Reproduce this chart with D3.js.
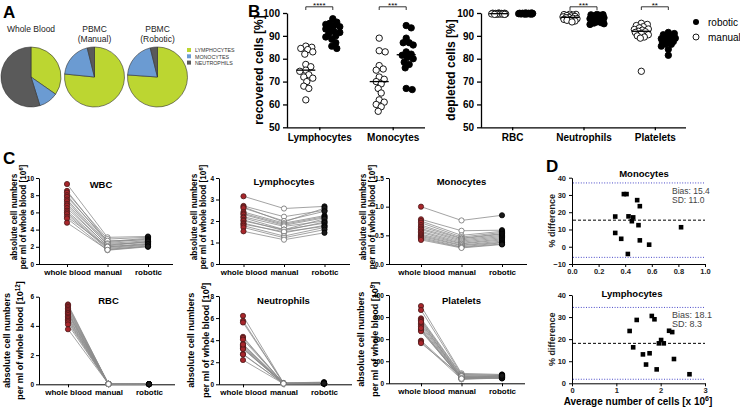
<!DOCTYPE html>
<html><head><meta charset="utf-8">
<script src="https://cdn.jsdelivr.net/npm/d3@7"></script>
<style>body{margin:0;background:#fff}svg{display:block}</style>
</head><body>
<script>
// ---------------- DATA ----------------
// Panel A
const pieCats = ["LYMPHOCYTES","MONOCYTES","NEUTROPHILS"];
const pieTitles = [["Whole Blood"],["PBMC","(Manual)"],["PBMC","(Robotic)"]];
const pieWhole = [34.7, 10.5, 54.8];
const pieManual = [76.6, 19.5, 3.9];
const pieRobotic = [76.1, 20.0, 3.9];
// Panel B
const bLeftCats = ["Lymphocytes","Monocytes"];
const lymphManual = [85.5,85,84.5,84,83,82,77.5,76.5,75,74.5,73,72,71.5,70,68,67,62];
const lymphRobotic = [97.5,96,95.5,95,94.5,94,93.5,93,92,91.5,91,90,89.5,88.5,87,85.5,84.5];
const monoManual = [89,83.5,83,77,75.5,75,72,71,70,69,67,65,62,61,60,59,57];
const monoRobotic = [94.5,93.5,89,87,87,86,83,82,81.5,80.5,80,78.5,77.5,76,67,66.5];
const bLeftStars = ["****","***"];
const bRightCats = ["RBC","Neutrophils","Platelets"];
const rbcManual = [100,99.9,99.9,99.8,99.8,99.8,99.7,99.7,99.7,99.6,99.6,99.6,99.5,99.5,99.5,99.4,99.4];
const rbcRobotic = [100,100,99.9,99.9,99.9,99.8,99.8,99.8,99.8,99.7,99.7,99.7,99.6,99.6,99.6,99.5,99.5];
const neutManual = [99.5,99.4,99.3,99.1,98.9,98.7,98.5,98.3,98.1,97.9,97.7,97.5,97.2,97,96.8,96.5,96.1];
const neutRobotic = [99.4,99.3,99.2,99,98.7,98.3,97.9,97.5,97.2,96.9,96.6,96.3,96.1,95.8,95.6,95.3,95];
const pltManual = [95.5,95,94.5,94,93.5,93,92.8,92.5,92,91.8,91.5,91,90.5,90,89.5,89,74.5];
const pltRobotic = [91.5,91,90.5,90,89.5,89,88.8,88.5,88,87.5,87.4,87,86.5,86.3,85.5,84.1,81.5];
const bRightStars = ["","***","**"];
// Panel C (one entry per donor)
const cCats = ["whole blood","manual","robotic"];
const wbcWhole   = [9.3,8.5,8.3,8.0,7.8,7.5,7.3,7.0,6.8,6.5,6.2,6.0,5.8,5.5,5.3,4.8];
const wbcManual  = [3.1,2.6,2.9,2.5,2.7,2.4,2.2,2.3,2.0,2.1,1.9,1.8,1.7,2.0,1.6,1.65];
const wbcRobotic = [3.2,3.0,3.1,2.9,2.8,2.7,2.6,2.5,2.4,2.6,2.3,2.2,2.1,2.3,2.0,2.05];
const lymWhole   = [3.15,2.7,2.65,2.6,2.42,2.35,2.3,2.2,2.15,2.05,2.0,1.9,1.85,1.78,1.7,1.52];
const lymManual  = [2.58,2.2,1.95,2.0,1.9,1.85,1.8,1.75,1.6,1.55,1.6,1.45,1.5,1.3,1.22,1.13];
const lymRobotic = [2.68,2.5,2.6,2.45,2.25,2.2,2.15,2.0,2.1,1.95,1.9,1.8,1.75,1.7,1.6,1.45];
const monWhole   = [1.0,0.78,0.75,0.72,0.68,0.65,0.62,0.6,0.57,0.55,0.52,0.5,0.48,0.46,0.44,0.42];
const monManual  = [0.76,0.58,0.5,0.47,0.45,0.44,0.42,0.4,0.38,0.36,0.35,0.33,0.32,0.3,0.29,0.28];
const monRobotic = [0.85,0.59,0.57,0.55,0.53,0.52,0.5,0.48,0.46,0.44,0.42,0.4,0.38,0.37,0.35,0.34];
const rbcWhole   = [5.47,5.4,5.3,5.2,5.1,5.0,4.9,4.85,4.75,4.63,4.55,4.45,4.35,4.25,4.1,3.77];
const rbcManualAbs  = [0.03,0.02,0.02,0.03,0.02,0.02,0.03,0.02,0.02,0.02,0.03,0.02,0.02,0.02,0.03,0.02];
const rbcRoboticAbs = [0.01,0.01,0.01,0.01,0.01,0.01,0.01,0.01,0.01,0.01,0.01,0.01,0.01,0.01,0.01,0.01];
const neuWhole   = [6.2,5.75,5.6,4.3,4.2,4.05,3.65,3.5,3.4,3.3,3.25,3.2,2.75,2.7,2.2,3.6];
const neuManual  = [0.12,0.1,0.1,0.08,0.09,0.1,0.07,0.08,0.06,0.07,0.08,0.06,0.05,0.06,0.05,0.07];
const neuRobotic = [0.2,0.15,0.12,0.1,0.12,0.1,0.09,0.1,0.08,0.09,0.07,0.08,0.06,0.07,0.06,0.08];
const pltWhole   = [350,332,294,288,284,272,265,258,245,241,236,193,188,182,278,250];
const pltManualAbs  = [45,40,38,35,30,28,25,23,20,18,22,27,19,32,24,21];
const pltRoboticAbs = [40,38,35,33,30,27,25,22,28,24,36,31,26,23,29,34];
// Panel D
const monoAvg  = [0.39,0.41,0.49,0.51,0.325,0.425,0.46,0.45,0.5,0.325,0.37,0.51,0.58,0.42,0.82];
const monoDiff = [30.5,30.5,27,23.5,17.5,17.6,17,14.8,12.5,8,4.6,3.7,1.2,-4.2,11.3];
const monoBias = 15.4, monoSD = 11.0;
const lymAvg  = [1.3,1.38,1.46,1.6,1.67,1.75,1.8,1.86,1.91,1.96,2.01,2.07,2.19,2.26,2.3,2.65];
const lymDiff = [23.7,16.3,28.7,13.1,8.5,13.6,30.5,29,6.3,18.1,19.6,18.1,23.8,23.2,11,4.1];
const lymBias = 18.1, lymSD = 8.3;

// ---------------- DRAW ----------------
const FONT = "'Liberation Sans', Arial, Helvetica, sans-serif";
const svg = d3.select("body").append("svg").attr("width",740).attr("height",407)
  .style("font-family", FONT);
svg.append("rect").attr("width",740).attr("height",407).attr("fill","#fff");

function panelLabel(t,x,y,size){ svg.append("text").attr("x",x).attr("y",y).attr("font-size",size)
  .attr("font-weight","bold").text(t); }
panelLabel("A",3,18,17); panelLabel("B",248,17,17); panelLabel("C",3,164,17); panelLabel("D",546,172,17);

// ---- A ----
const pieColors = d3.scaleOrdinal().domain(pieCats).range(["#bcd631","#6b9bd2","#5a5a5a"]);
const pieArc = d3.arc().innerRadius(0).outerRadius(30);
const pieGen = d3.pie().sort(null);
[[pieWhole,31],[pieManual,94.5],[pieRobotic,157.5]].forEach(([vals,cx],k)=>{
  const g = svg.append("g").attr("transform",`translate(${cx},77)`);
  g.selectAll("path").data(pieGen(vals)).join("path").attr("d",pieArc)
    .attr("fill",(d,i)=>pieColors(pieCats[i])).attr("stroke","#333").attr("stroke-width",0.6);
  pieTitles[k].forEach((t,j)=> svg.append("text").attr("x",cx).attr("y",32+j*9.5)
    .attr("text-anchor","middle").attr("font-size",8.5).attr("fill","#222").text(t));
});
pieCats.forEach((c,i)=>{
  svg.append("rect").attr("x",187).attr("y",48+i*6.3).attr("width",4).attr("height",4).attr("fill",pieColors(c));
  svg.append("text").attr("x",195).attr("y",52.2+i*6.3).attr("font-size",5.3).attr("fill","#333").text(c);
});

// ---- helper: beeswarm offsets ----
function swarm(ys, r, maxHalf){
  const order = ys.map((y,i)=>({i,y})).sort((a,b)=>a.y-b.y);
  const placed=[]; const out=new Array(ys.length);
  const minD = 2*r*0.82;
  order.forEach(p=>{
    let best=null, bestScore=-1, bestOff=0;
    for(let k=0;k<=2*maxHalf;k++){
      const off = (k%2? 1:-1)*Math.ceil(k/2);
      let md = Infinity;
      placed.forEach(q=>{ const d=Math.hypot(off-q.x,p.y-q.y); if(d<md) md=d; });
      if(md>=minD){ best=off; break; }
      if(md>bestScore){ bestScore=md; bestOff=off; }
    }
    if(best===null) best=bestOff;
    placed.push({x:best,y:p.y}); out[p.i]=best;
  });
  return out;
}

// ---- B ----
const yB = d3.scaleLinear().domain([50,100]).range([127.3,13]);
function bPanel(cats, groups, x0, x1, padding, yLabel, yLabelX, stars){
  const xs = d3.scalePoint().domain(cats).range([x0,x1]).padding(padding);
  const g = svg.append("g");
  const ya = g.append("g").attr("transform",`translate(${x0},0)`)
    .call(d3.axisLeft(yB).tickValues([50,60,70,80,90,100]).tickSize(4).tickSizeOuter(0));
  const xa = g.append("g").attr("transform",`translate(0,127.3)`)
    .call(d3.axisBottom(xs).tickSize(3).tickSizeOuter(0));
  xa.select(".domain").attr("d",`M${x0},0.5H${x1}`);
  [ya,xa].forEach(a=>{a.selectAll("path,line").attr("stroke","#000").attr("stroke-width",1.3);
    a.selectAll("text").attr("font-size",10).attr("font-weight","bold").attr("font-family",FONT).attr("fill","#000");});
  xa.selectAll("text").attr("y",14).attr("dy",0);
  g.append("text").attr("transform",`translate(${yLabelX},70) rotate(-90)`).attr("dy","0.35em")
    .attr("text-anchor","middle").attr("font-size",12).attr("font-weight","bold").text(yLabel);
  cats.forEach((c,ci)=>{
    const [man, rob] = groups[ci];
    const cm = xs(c)-13.5, cr = xs(c)+13.5, r=3.2;
    [[man,cm,false],[rob,cr,true]].forEach(([vals,cx,filled])=>{
      const ys = vals.map(v=>yB(v));
      const offs = swarm(ys, r, 7);
      g.append("g").selectAll("circle").data(vals).join("circle")
        .attr("cx",(d,i)=>cx+offs[i]).attr("cy",d=>yB(d)).attr("r",r)
        .attr("fill",filled?"#000":"#fff").attr("stroke","#000").attr("stroke-width",0.9);
      const med = d3.median(vals);
      g.append("line").attr("x1",cx-9.5).attr("x2",cx+9.5).attr("y1",yB(med)).attr("y2",yB(med))
        .attr("stroke","#000").attr("stroke-width",1.3);
    });
    if(stars[ci]){
      g.append("path").attr("d",`M${cm},10V6.8H${cr}V10`).attr("fill","none").attr("stroke","#000").attr("stroke-width",0.8);
      g.append("text").attr("x",(cm+cr)/2).attr("y",8).attr("text-anchor","middle").attr("font-size",8).text(stars[ci]);
    }
  });
}
bPanel(bLeftCats, [[lymphManual,lymphRobotic],[monoManual,monoRobotic]], 287, 425, 0.44, "recovered cells [%]", 259, bLeftStars);
bPanel(bRightCats, [[rbcManual,rbcRobotic],[neutManual,neutRobotic],[pltManual,pltRobotic]], 481, 686, 0.437, "depleted cells [%]", 451, bRightStars);
// legend B
svg.append("circle").attr("cx",696).attr("cy",22).attr("r",3).attr("fill","#000");
svg.append("circle").attr("cx",696).attr("cy",37).attr("r",3).attr("fill","#fff").attr("stroke","#000").attr("stroke-width",0.9);
svg.append("text").attr("x",708).attr("y",25.5).attr("font-size",10).text("robotic");
svg.append("text").attr("x",708).attr("y",40.5).attr("font-size",10).text("manual");

// ---- C ----
function cPlot(o){
  const g = svg.append("g");
  const y = d3.scaleLinear().domain(o.domain).range([o.yBot,o.yTop]);
  const x = d3.scalePoint().domain(cCats).range([o.first, o.first+2*40.5]);
  const ya = g.append("g").attr("transform",`translate(${o.x0},0)`)
    .call(d3.axisLeft(y).tickValues(o.ticks).tickFormat(o.fmt||d3.format("d")).tickSize(3).tickPadding(2).tickSizeOuter(0));
  const xa = g.append("g").attr("transform",`translate(0,${o.yBot})`)
    .call(d3.axisBottom(x).tickSize(3).tickSizeOuter(0));
  xa.select(".domain").attr("d",`M${o.x0},0.5H${o.xEnd}`);
  [ya,xa].forEach(a=>{a.selectAll("path,line").attr("stroke","#000").attr("stroke-width",1);
    a.selectAll("text").attr("font-weight","bold").attr("font-family",FONT).attr("fill","#000");});
  ya.selectAll("text").attr("font-size",6.5);
  xa.selectAll("text").attr("font-size",8).attr("y",11).attr("dy",0);
  const [w,m,r] = o.data;
  const line = d3.line();
  g.append("g").selectAll("path").data(w).join("path")
    .attr("d",(d,i)=>line([[x(cCats[0]),y(w[i])],[x(cCats[1]),y(m[i])],[x(cCats[2]),y(r[i])]]))
    .attr("fill","none").attr("stroke","#8c8c8c").attr("stroke-width",0.8);
  const pt = (vals,cat,fill,stroke)=> g.append("g").selectAll("circle").data(vals).join("circle")
    .attr("cx",x(cat)).attr("cy",d=>y(d)).attr("r",2.6).attr("fill",fill).attr("stroke",stroke).attr("stroke-width",0.8);
  pt(w,cCats[0],"#a8262b","#4a1a1a");
  pt(m,cCats[1],"#fff","#6e6e6e");
  pt(r,cCats[2],"#1a1a1a","#000");
  g.append("text").attr("x",o.titleX||x(cCats[1])).attr("y",o.titleY).attr("text-anchor","middle")
    .attr("font-size",9.5).attr("font-weight","bold").text(o.title);
  const yc = (o.yTop+o.yBot)/2 + (o.lyOff||0);
  g.append("text").attr("transform",`translate(${o.lx1},${yc}) rotate(-90)`).attr("dy","0.35em")
    .attr("text-anchor","middle").attr("font-size",o.ls).attr("font-weight","bold").text("absolute cell numbers");
  const t2 = g.append("text").attr("transform",`translate(${o.lx2},${yc}) rotate(-90)`).attr("dy","0.35em")
    .attr("text-anchor","middle").attr("font-size",o.ls).attr("font-weight","bold");
  t2.append("tspan").text("per ml of whole blood [10");
  t2.append("tspan").attr("dy",-o.ls*0.4).attr("font-size",o.ls*0.7).text(o.exp);
  t2.append("tspan").attr("dy",o.ls*0.4).text("]");
}
cPlot({x0:39,xEnd:173,first:67,yTop:178,yBot:264,domain:[0,10],ticks:[0,2,4,6,8,10],title:"WBC",titleX:101,titleY:188,
  data:[wbcWhole,wbcManual,wbcRobotic],lx1:14.5,lx2:23.5,ls:8.2,exp:"6",lyOff:-4});
cPlot({x0:219,xEnd:350,first:243.5,yTop:178,yBot:264,domain:[0,4],ticks:[0,1,2,3,4],title:"Lymphocytes",titleY:185,
  data:[lymWhole,lymManual,lymRobotic],lx1:194.5,lx2:203.5,ls:8.2,exp:"6",lyOff:-4});
cPlot({x0:389,xEnd:527,first:421,yTop:178,yBot:264,domain:[0,1.5],ticks:[0,0.5,1,1.5],fmt:d3.format(".1f"),title:"Monocytes",titleY:185,
  data:[monWhole,monManual,monRobotic],lx1:363.5,lx2:372.5,ls:8.2,exp:"6",lyOff:-4});
cPlot({x0:39,xEnd:175,first:68,yTop:296.7,yBot:384.3,domain:[0,6],ticks:[0,2,4,6],title:"RBC",titleY:304,
  data:[rbcWhole,rbcManualAbs,rbcRoboticAbs],lx1:7,lx2:20,ls:9,exp:"12"});
cPlot({x0:219,xEnd:352,first:243,yTop:296,yBot:384.3,domain:[0,8],ticks:[0,2,4,6,8],title:"Neutrophils",titleY:304,
  data:[neuWhole,neuManual,neuRobotic],lx1:191,lx2:206,ls:9,exp:"6"});
cPlot({x0:389,xEnd:525,first:421,yTop:295,yBot:383.3,domain:[0,400],ticks:[0,100,200,300,400],title:"Platelets",titleY:304,
  data:[pltWhole,pltManualAbs,pltRoboticAbs],lx1:360.5,lx2:375,ls:9,exp:"9"});

// ---- D ----
function dPlot(o){
  const g = svg.append("g");
  const x = d3.scaleLinear().domain(o.xd).range([572,705]);
  const y = d3.scaleLinear().domain(o.yd).range([o.yBot,o.yTop]);
  const ya = g.append("g").attr("transform",`translate(572,0)`)
    .call(d3.axisLeft(y).tickValues(o.yt).tickSize(3).tickSizeOuter(0));
  const xa = g.append("g").attr("transform",`translate(0,${o.yBot})`)
    .call(d3.axisBottom(x).tickValues(o.xt).tickFormat(o.xf).tickSize(3).tickSizeOuter(0));
  [ya,xa].forEach(a=>{a.selectAll("path,line").attr("stroke","#000").attr("stroke-width",1);
    a.selectAll("text").attr("font-size",7.5).attr("font-weight","bold").attr("font-family",FONT).attr("fill","#222");});
  xa.selectAll("text").attr("y",10).attr("dy",0);
  const lo = o.bias-1.96*o.sd, hi = o.bias+1.96*o.sd;
  [lo,hi].forEach(v=> g.append("line").attr("x1",573).attr("x2",705).attr("y1",y(v)).attr("y2",y(v))
    .attr("stroke","#4a4ac8").attr("stroke-width",1).attr("stroke-dasharray","1,1.6"));
  g.append("line").attr("x1",573).attr("x2",705).attr("y1",y(o.bias)).attr("y2",y(o.bias))
    .attr("stroke","#000").attr("stroke-width",1).attr("stroke-dasharray","3,2");
  g.append("g").selectAll("rect").data(o.avg).join("rect")
    .attr("x",(d)=>x(d)-2.3).attr("y",(d,i)=>y(o.diff[i])-2.3).attr("width",4.6).attr("height",4.6).attr("fill","#000");
  g.append("text").attr("x",o.titleX).attr("y",o.titleY).attr("text-anchor","middle").attr("font-size",9.5)
    .attr("font-weight","bold").text(o.title);
  g.append("text").attr("x",672).attr("y",o.by).attr("font-size",o.bs).attr("fill","#444").text("Bias: "+o.bias.toFixed(1));
  g.append("text").attr("x",672).attr("y",o.by+o.bs).attr("font-size",o.bs).attr("fill","#444").text("SD: "+o.sd.toFixed(1));
  g.append("text").attr("transform",`translate(552,${(o.yTop+o.yBot)/2}) rotate(-90)`).attr("dy","0.35em")
    .attr("text-anchor","middle").attr("font-size",9).attr("font-weight","bold").attr("fill","#222").text("% difference");
}
dPlot({xd:[0,1],xt:[0,0.2,0.4,0.6,0.8,1],xf:d3.format(".1f"),yd:[-10,40],yt:[-10,0,10,20,30,40],yTop:177.7,yBot:264,
  avg:monoAvg,diff:monoDiff,bias:monoBias,sd:monoSD,title:"Monocytes",titleX:644,titleY:177,by:194,bs:8.5});
dPlot({xd:[0,3],xt:[0,1,2,3],xf:d3.format("d"),yd:[0,40],yt:[0,10,20,30,40],yTop:295,yBot:383.3,
  avg:lymAvg,diff:lymDiff,bias:lymBias,sd:lymSD,title:"Lymphocytes",titleX:632,titleY:297,by:318,bs:9});
const xl = svg.append("text").attr("x",638).attr("y",404.5).attr("text-anchor","middle").attr("font-size",10).attr("font-weight","bold");
xl.append("tspan").text("Average number of cells [x 10");
xl.append("tspan").attr("dy",-4).attr("font-size",7).text("6");
xl.append("tspan").attr("dy",4).text("]");
</script>
</body></html>
